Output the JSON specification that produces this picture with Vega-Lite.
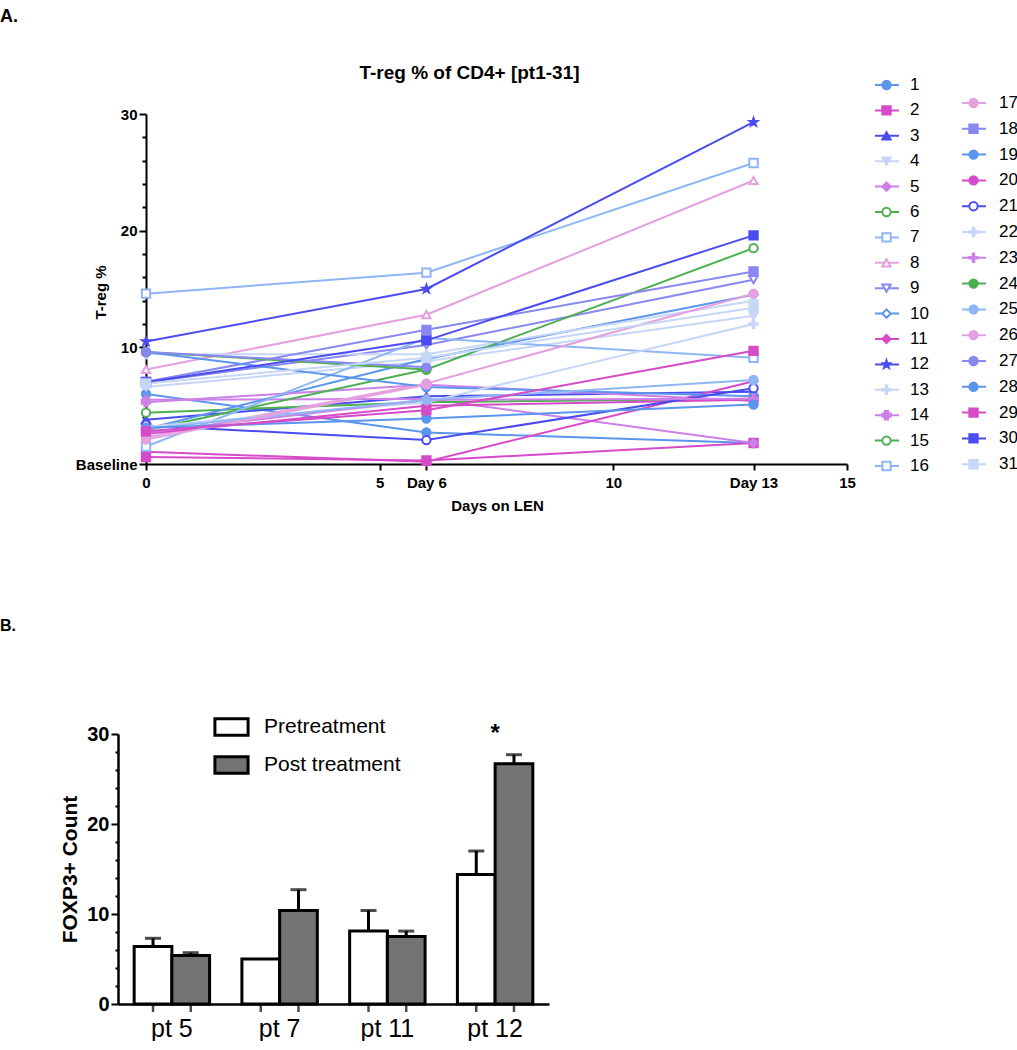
{
 "$schema": "https://vega.github.io/schema/vega-lite/v6.json",
 "padding": {"left": 0, "top": 8, "right": 0, "bottom": 0},
 "config": {"view": {"stroke": null}, "font": "Liberation Sans"},
 "title": {"text": "A.", "anchor": "start", "frame": "bounds", "offset": 38, "fontSize": 18, "fontWeight": "bold", "font": "Liberation Sans", "color": "black"},
 "datasets": {
  "treg": [
   {"pt":1,"day":0,"val":6.0},{"pt":1,"day":6,"val":2.7},{"pt":1,"day":13,"val":1.8},
   {"pt":2,"day":0,"val":0.6},{"pt":2,"day":6,"val":0.3},{"pt":2,"day":13,"val":1.8},
   {"pt":3,"day":0,"val":3.8},{"pt":3,"day":6,"val":5.8},{"pt":3,"day":13,"val":6.2},
   {"pt":4,"day":0,"val":6.6},{"pt":4,"day":6,"val":8.8},{"pt":4,"day":13,"val":12.7},
   {"pt":5,"day":0,"val":5.5},{"pt":5,"day":6,"val":5.6},{"pt":5,"day":13,"val":1.8},
   {"pt":6,"day":0,"val":4.4},{"pt":6,"day":6,"val":5.3},{"pt":6,"day":13,"val":5.6},
   {"pt":7,"day":0,"val":14.6},{"pt":7,"day":6,"val":16.4},{"pt":7,"day":13,"val":25.8},
   {"pt":8,"day":0,"val":8.1},{"pt":8,"day":6,"val":12.8},{"pt":8,"day":13,"val":24.3},
   {"pt":9,"day":0,"val":7.0},{"pt":9,"day":6,"val":10.2},{"pt":9,"day":13,"val":15.8},
   {"pt":10,"day":0,"val":3.0},{"pt":10,"day":6,"val":9.0},{"pt":10,"day":13,"val":14.5},
   {"pt":11,"day":0,"val":1.05},{"pt":11,"day":6,"val":0.2},{"pt":11,"day":13,"val":7.1},
   {"pt":12,"day":0,"val":10.5},{"pt":12,"day":6,"val":15.0},{"pt":12,"day":13,"val":29.3},
   {"pt":13,"day":0,"val":9.4},{"pt":13,"day":6,"val":9.4},{"pt":13,"day":13,"val":14.0},
   {"pt":14,"day":0,"val":5.3},{"pt":14,"day":6,"val":6.8},{"pt":14,"day":13,"val":5.4},
   {"pt":15,"day":0,"val":2.9},{"pt":15,"day":6,"val":8.1},{"pt":15,"day":13,"val":18.5},
   {"pt":16,"day":0,"val":1.5},{"pt":16,"day":6,"val":10.8},{"pt":16,"day":13,"val":9.1},
   {"pt":17,"day":0,"val":2.3},{"pt":17,"day":6,"val":6.9},{"pt":17,"day":13,"val":14.6},
   {"pt":18,"day":0,"val":7.05},{"pt":18,"day":6,"val":11.5},{"pt":18,"day":13,"val":16.5},
   {"pt":19,"day":0,"val":9.6},{"pt":19,"day":6,"val":6.6},{"pt":19,"day":13,"val":5.8},
   {"pt":20,"day":0,"val":2.6},{"pt":20,"day":6,"val":5.0},{"pt":20,"day":13,"val":5.5},
   {"pt":21,"day":0,"val":3.3},{"pt":21,"day":6,"val":2.05},{"pt":21,"day":13,"val":6.5},
   {"pt":22,"day":0,"val":3.2},{"pt":22,"day":6,"val":5.3},{"pt":22,"day":13,"val":12.0},
   {"pt":23,"day":0,"val":2.7},{"pt":23,"day":6,"val":5.5},{"pt":23,"day":13,"val":5.6},
   {"pt":24,"day":0,"val":9.6},{"pt":24,"day":6,"val":8.1},
   {"pt":25,"day":0,"val":3.0},{"pt":25,"day":6,"val":5.5},{"pt":25,"day":13,"val":7.2},
   {"pt":26,"day":0,"val":2.1},{"pt":26,"day":6,"val":6.8},
   {"pt":27,"day":0,"val":9.6},{"pt":27,"day":6,"val":8.3},
   {"pt":28,"day":0,"val":3.1},{"pt":28,"day":6,"val":3.9},{"pt":28,"day":13,"val":5.1},
   {"pt":29,"day":0,"val":2.8},{"pt":29,"day":6,"val":4.6},{"pt":29,"day":13,"val":9.7},
   {"pt":30,"day":0,"val":7.0},{"pt":30,"day":6,"val":10.6},{"pt":30,"day":13,"val":19.6},
   {"pt":31,"day":0,"val":6.9},{"pt":31,"day":6,"val":9.1},{"pt":31,"day":13,"val":13.4}
  ],
  "foxp3": [
   {"pt":"pt 5","grp":"Pretreatment","val":6.4,"hi":7.3},
   {"pt":"pt 5","grp":"Post treatment","val":5.4,"hi":5.7},
   {"pt":"pt 7","grp":"Pretreatment","val":5.0,"hi":null},
   {"pt":"pt 7","grp":"Post treatment","val":10.4,"hi":12.7},
   {"pt":"pt 11","grp":"Pretreatment","val":8.1,"hi":10.4},
   {"pt":"pt 11","grp":"Post treatment","val":7.5,"hi":8.1},
   {"pt":"pt 12","grp":"Pretreatment","val":14.4,"hi":17.0},
   {"pt":"pt 12","grp":"Post treatment","val":26.7,"hi":27.7}
  ]
 },
 "spacing": 105,
 "vconcat": [
  {
   "width": 729, "height": 350,
   "title": {"text": "T-reg % of CD4+ [pt1-31]", "anchor": "middle", "frame": "group", "dx": -13, "offset": -8, "fontSize": 19, "fontWeight": "bold", "font": "Liberation Sans", "color": "black"},
   "encoding": {
    "x": {"field": "day", "type": "quantitative", "scale": {"domain": [0, 15], "range": [28, 729], "nice": false, "zero": false},
     "axis": {"values": [0, 5, 6, 10, 13, 15], "labelExpr": "datum.value==6?'Day 6':(datum.value==13?'Day 13':datum.label)", "grid": false, "domainColor": "black", "domainWidth": 2, "tickColor": "black", "tickWidth": 2, "tickSize": 6, "labelPadding": 5, "labelFontSize": 15, "labelFontWeight": "bold", "labelColor": "black", "labelOverlap": false, "labelFlush": false, "title": "Days on LEN", "titleFontSize": 15, "titleFontWeight": "bold", "titleColor": "black", "titlePadding": 8, "titleX": 379}},
    "y": {"field": "val", "type": "quantitative", "scale": {"domain": [0, 30], "nice": false},
     "axis": {"offset": -28, "values": [0, 2, 4, 6, 8, 10, 12, 14, 16, 18, 20, 22, 24, 26, 28, 30], "labelExpr": "datum.value==0?'Baseline':(datum.value%10==0?datum.label:'')", "tickSize": {"condition": {"test": "datum.value%10==0", "value": 7}, "value": 4}, "tickWidth": 2, "tickColor": "black", "domainColor": "black", "domainWidth": 2, "grid": false, "labelFontSize": 15, "labelFontWeight": "bold", "labelColor": "black", "labelPadding": 2, "labelOverlap": false, "title": "T-reg %", "titleFontSize": 15, "titleFontWeight": "bold", "titleColor": "black", "titleX": -38, "titleY": 178}}
   },
   "layer": [
    {"data": {"values": [{"day": 6}, {"day": 13}]},
     "mark": {"type": "rule", "color": "black", "strokeWidth": 2},
     "encoding": {"y": {"datum": 0}, "y2": {"datum": 30},
      "strokeDash": {"field": "day", "type": "nominal", "scale": {"domain": [6, 13], "range": [[7, 4, 2, 4], [8, 5]]}, "legend": null}}},
    {"data": {"name": "treg"}, "transform": [{"filter": "datum.pt <= 16"}],
     "layer": [
      {"mark": {"type": "line", "strokeWidth": 2},
       "encoding": {"color": {"field": "pt", "type": "nominal",
        "scale": {"domain": [1,2,3,4,5,6,7,8,9,10,11,12,13,14,15,16,99], "range": ["#5b95ee","#d64bc8","#4a4cf0","#c5d6f6","#cc80e8","#4caf50","#8fb6f4","#e4a0df","#8888f0","#5b95ee","#d64bc8","#4a4cf0","#c5d6f6","#cc80e8","#4caf50","#8fb6f4","#000000"]},
        "legend": {"values": [1,2,3,4,5,6,7,8,9,10,11,12,13,14,15,16], "orient": "none", "legendX": 756, "legendY": -39, "title": null, "padding": 0, "symbolType": "stroke", "symbolSize": 576, "symbolStrokeWidth": 2, "labelFontSize": 17, "labelColor": "black", "labelOffset": 10, "clipHeight": 20, "rowPadding": 5.4}}}},
      {"mark": {"type": "point", "filled": true, "strokeWidth": 2, "size": 70, "opacity": 1},
       "encoding": {
        "stroke": {"field": "pt", "type": "nominal",
         "scale": {"domain": [1,2,3,4,5,6,7,8,9,10,11,12,13,14,15,16], "range": ["#5b95ee","#d64bc8","#4a4cf0","#c5d6f6","#cc80e8","#4caf50","#8fb6f4","#e4a0df","#8888f0","#5b95ee","#d64bc8","#4a4cf0","#c5d6f6","#cc80e8","#4caf50","#8fb6f4"]},
         "legend": {"orient": "none", "legendX": 763, "legendY": -39, "title": null, "padding": 0, "labelExpr": "''", "labelFontSize": 2, "labelOffset": 0, "clipHeight": 20, "rowPadding": 5.4, "symbolSize": 70, "symbolStrokeWidth": 2}},
        "fill": {"field": "pt", "type": "nominal",
         "scale": {"domain": [1,2,3,4,5,6,7,8,9,10,11,12,13,14,15,16], "range": ["#5b95ee","#d64bc8","#4a4cf0","#c5d6f6","#cc80e8","white","white","white","white","white","#d64bc8","#4a4cf0","#c5d6f6","#cc80e8","white","white"]},
         "legend": {"orient": "none", "legendX": 763, "legendY": -39, "title": null, "padding": 0, "labelExpr": "''", "labelFontSize": 2, "labelOffset": 0, "clipHeight": 20, "rowPadding": 5.4, "symbolSize": 70, "symbolStrokeWidth": 2}},
        "shape": {"field": "pt", "type": "nominal",
         "scale": {"domain": [1,2,3,4,5,6,7,8,9,10,11,12,13,14,15,16], "range": ["circle","square","triangle-up","triangle-down","diamond","circle","square","triangle-up","triangle-down","diamond","diamond","M0,-1L0.235,-0.324L0.951,-0.309L0.38,0.124L0.588,0.809L0,0.4L-0.588,0.809L-0.38,0.124L-0.951,-0.309L-0.235,-0.324Z","M-1,-0.18H-0.18V-1H0.18V-0.18H1V0.18H0.18V1H-0.18V0.18H-1Z","cross","circle","square"]},
         "legend": {"orient": "none", "legendX": 763, "legendY": -39, "title": null, "padding": 0, "labelExpr": "''", "labelFontSize": 2, "labelOffset": 0, "clipHeight": 20, "rowPadding": 5.4, "symbolSize": 70, "symbolStrokeWidth": 2}}
       }}
     ]},
    {"data": {"name": "treg"}, "transform": [{"filter": "datum.pt > 16"}],
     "layer": [
      {"mark": {"type": "line", "strokeWidth": 2},
       "encoding": {"color": {"field": "pt", "type": "nominal",
        "scale": {"domain": [17,18,19,20,21,22,23,24,25,26,27,28,29,30,31,99], "range": ["#e4a0df","#8888f0","#5b95ee","#d64bc8","#4a4cf0","#c5d6f6","#cc80e8","#4caf50","#8fb6f4","#e4a0df","#8888f0","#5b95ee","#d64bc8","#4a4cf0","#c5d6f6","#000000"]},
        "legend": {"values": [17,18,19,20,21,22,23,24,25,26,27,28,29,30,31], "orient": "none", "legendX": 843, "legendY": -21, "title": null, "padding": 0, "symbolType": "stroke", "symbolSize": 576, "symbolStrokeWidth": 2, "labelFontSize": 17, "labelColor": "black", "labelOffset": 12, "clipHeight": 20, "rowPadding": 5.8}}}},
      {"mark": {"type": "point", "filled": true, "strokeWidth": 2, "size": 70, "opacity": 1},
       "encoding": {
        "stroke": {"field": "pt", "type": "nominal",
         "scale": {"domain": [17,18,19,20,21,22,23,24,25,26,27,28,29,30,31], "range": ["#e4a0df","#8888f0","#5b95ee","#d64bc8","#4a4cf0","#c5d6f6","#cc80e8","#4caf50","#8fb6f4","#e4a0df","#8888f0","#5b95ee","#d64bc8","#4a4cf0","#c5d6f6"]},
         "legend": {"orient": "none", "legendX": 850, "legendY": -21, "title": null, "padding": 0, "labelExpr": "''", "labelFontSize": 2, "labelOffset": 0, "clipHeight": 20, "rowPadding": 5.8, "symbolSize": 70, "symbolStrokeWidth": 2}},
        "fill": {"field": "pt", "type": "nominal",
         "scale": {"domain": [17,18,19,20,21,22,23,24,25,26,27,28,29,30,31], "range": ["#e4a0df","#8888f0","#5b95ee","#d64bc8","white","#c5d6f6","#cc80e8","#4caf50","#8fb6f4","#e4a0df","#8888f0","#5b95ee","#d64bc8","#4a4cf0","#c5d6f6"]},
         "legend": {"orient": "none", "legendX": 850, "legendY": -21, "title": null, "padding": 0, "labelExpr": "''", "labelFontSize": 2, "labelOffset": 0, "clipHeight": 20, "rowPadding": 5.8, "symbolSize": 70, "symbolStrokeWidth": 2}},
        "shape": {"field": "pt", "type": "nominal",
         "scale": {"domain": [17,18,19,20,21,22,23,24,25,26,27,28,29,30,31], "range": ["circle","square","circle","circle","circle","M-1,-0.18H-0.18V-1H0.18V-0.18H1V0.18H0.18V1H-0.18V0.18H-1Z","M-1,-0.18H-0.18V-1H0.18V-0.18H1V0.18H0.18V1H-0.18V0.18H-1Z","circle","circle","circle","circle","circle","square","square","square"]},
         "legend": {"orient": "none", "legendX": 850, "legendY": -21, "title": null, "padding": 0, "labelExpr": "''", "labelFontSize": 2, "labelOffset": 0, "clipHeight": 20, "rowPadding": 5.8, "symbolSize": 70, "symbolStrokeWidth": 2}}
       }}
     ]}
   ],
   "resolve": {"scale": {"color": "independent", "stroke": "independent", "fill": "independent", "shape": "independent"}}
  },
  {
   "width": 431, "height": 270,
   "title": {"text": "B.", "anchor": "start", "frame": "group", "dx": -118, "offset": 88, "fontSize": 16, "fontWeight": "bold", "font": "Liberation Sans", "color": "black"},
   "data": {"name": "foxp3"},
   "encoding": {
    "x": {"field": "pt", "type": "nominal", "sort": ["pt 5", "pt 7", "pt 11", "pt 12"], "scale": {"paddingInner": 0.3, "paddingOuter": 0.15},
     "axis": {"ticks": false, "domainColor": "black", "domainWidth": 2.5, "labelFontSize": 25, "labelColor": "black", "labelPadding": 12, "labelAngle": 0, "title": null}},
    "y": {"field": "val", "type": "quantitative", "scale": {"domain": [0, 30], "nice": false},
     "axis": {"values": [0, 2, 4, 6, 8, 10, 12, 14, 16, 18, 20, 22, 24, 26, 28, 30], "labelExpr": "datum.value%10==0?datum.label:''", "tickSize": {"condition": {"test": "datum.value%10==0", "value": 7}, "value": 3}, "tickWidth": 2, "tickColor": "black", "domainColor": "black", "domainWidth": 2.5, "grid": false, "labelFontSize": 20, "labelFontWeight": "bold", "labelColor": "black", "labelOverlap": false, "title": "FOXP3+ Count", "titleFontSize": 21, "titleFontWeight": "bold", "titleColor": "black", "titlePadding": 6}}
   },
   "layer": [
    {"mark": {"type": "tick", "orient": "vertical", "color": "black", "size": 8, "thickness": 2.5, "yOffset": 4},
     "encoding": {"xOffset": {"field": "grp", "type": "nominal", "sort": ["Pretreatment", "Post treatment"]}, "y": {"datum": 0}}},
    {"mark": {"type": "bar", "stroke": "black", "strokeWidth": 3},
     "encoding": {"xOffset": {"field": "grp", "type": "nominal", "sort": ["Pretreatment", "Post treatment"]},
      "fill": {"field": "grp", "type": "nominal", "scale": {"domain": ["Pretreatment", "Post treatment"], "range": ["white", "#737373"]},
       "legend": {"orient": "none", "legendX": 95, "legendY": 598, "title": null, "padding": 0, "symbolType": "M-1,-0.5H1V0.5H-1Z", "symbolSize": 1100, "symbolStrokeColor": "black", "symbolStrokeWidth": 3, "labelFontSize": 21, "labelColor": "black", "labelOffset": 14, "clipHeight": 30, "rowPadding": 8}}}},
    {"transform": [{"filter": "datum.hi != null"}],
     "mark": {"type": "rule", "color": "black", "strokeWidth": 3},
     "encoding": {"xOffset": {"field": "grp", "type": "nominal", "sort": ["Pretreatment", "Post treatment"]}, "y2": {"field": "hi"}}},
    {"transform": [{"filter": "datum.hi != null"}],
     "mark": {"type": "tick", "color": "black", "thickness": 3, "size": 16},
     "encoding": {"xOffset": {"field": "grp", "type": "nominal", "sort": ["Pretreatment", "Post treatment"]}, "y": {"field": "hi", "type": "quantitative"}}},
    {"data": {"values": [{"pt": "pt 12", "s": "*", "val": 30.0}]},
     "mark": {"type": "text", "fontSize": 24, "fontWeight": "bold", "color": "black", "baseline": "middle"},
     "encoding": {"text": {"field": "s", "type": "nominal"}}}
   ]
  }
 ]
}
